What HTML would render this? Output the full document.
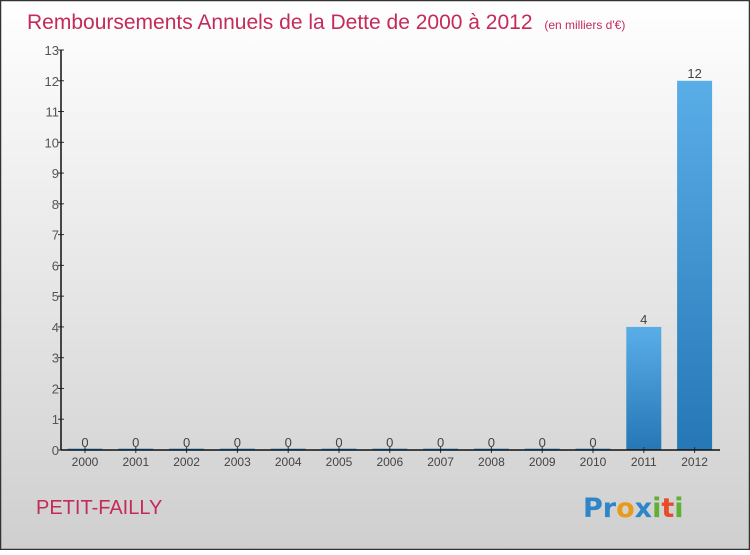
<!DOCTYPE html>
<html><head><meta charset="utf-8"><style>
body{margin:0;width:750px;height:550px;overflow:hidden;font-family:"Liberation Sans",sans-serif}
</style></head><body>
<svg id="chart" width="750" height="550" xmlns="http://www.w3.org/2000/svg">
<defs>
<linearGradient id="bg" x1="0" y1="0" x2="0" y2="1"><stop offset="0" stop-color="#ffffff"/><stop offset="1" stop-color="#cfcfcf"/></linearGradient>
<linearGradient id="bar" x1="0" y1="0" x2="0" y2="1"><stop offset="0" stop-color="#5aaee8"/><stop offset="1" stop-color="#2577b5"/></linearGradient>
</defs>
<rect x="0.5" y="0.5" width="749" height="549" fill="url(#bg)" stroke="#333" stroke-width="1.5"/>
<text x="27" y="29" font-size="21" fill="#c42a5a">Remboursements Annuels de la Dette de 2000 à 2012 <tspan font-size="12" dx="6">(en milliers d'€)</tspan></text>
<g id="plot"></g>
<text x="36" y="514" font-size="20" fill="#c42a5a">PETIT-FAILLY</text>
<g font-size="27" font-weight="bold" font-family="'DejaVu Sans',sans-serif">
<text x="583" y="517" fill="#2e86c8">Pr<tspan fill="#e89a1a">o</tspan><tspan fill="#2e86c8">x</tspan><tspan fill="#5fb033">i</tspan><tspan fill="#e84a2a">t</tspan><tspan fill="#5fb033">i</tspan></text>
</g>
</svg>
<script>
const categories=["2000","2001","2002","2003","2004","2005","2006","2007","2008","2009","2010","2011","2012"];
const values=[0,0,0,0,0,0,0,0,0,0,0,4,12];
const yTicks=[0,1,2,3,4,5,6,7,8,9,10,11,12,13];
const NS="http://www.w3.org/2000/svg";
const g=document.getElementById('plot');
const x0=61,x1=720,yBase=450,yTop=50,yMax=13;
const y=v=>yBase-(v/yMax)*(yBase-yTop);
const step=50.8,first=85;
const xc=i=>first+i*step;
function el(t,a,txt){const e=document.createElementNS(NS,t);for(const k in a)e.setAttribute(k,a[k]);if(txt!==undefined)e.textContent=txt;g.appendChild(e);return e;}
yTicks.forEach(t=>{
 const l=el('line',{x1:x0-3,x2:x0+3,y1:y(t),y2:y(t),stroke:'#333'});
 
 
 const tx=el('text',{x:x0-2,y:y(t)+5,'font-size':13,fill:'#555','text-anchor':'end'},t);
 
 
});
categories.forEach((c,i)=>{
 const v=values[i];const w=35;
 const h=Math.max(yBase-y(v),1.5);
 const r=el('rect',{x:xc(i)-w/2,y:yBase-h,width:w,height:h,fill:'url(#bar)'});
 
 
 const vl=el('text',{x:xc(i),y:y(v)-3,'font-size':13,fill:'#444','text-anchor':'middle'},v);
 
 
 const tk=el('line',{x1:xc(i),x2:xc(i),y1:yBase-3,y2:yBase+3,stroke:'#333'});
 
 
 const xl=el('text',{x:xc(i),y:yBase+16,'font-size':12,fill:'#444','text-anchor':'middle'},c);
 
 
});
const ya=el('line',{x1:x0,x2:x0,y1:yTop,y2:yBase,stroke:'#111','stroke-width':1.5});


const xa=el('line',{x1:x0,x2:x1,y1:yBase,y2:yBase,stroke:'#111','stroke-width':1.5});


</script>
</body></html>
